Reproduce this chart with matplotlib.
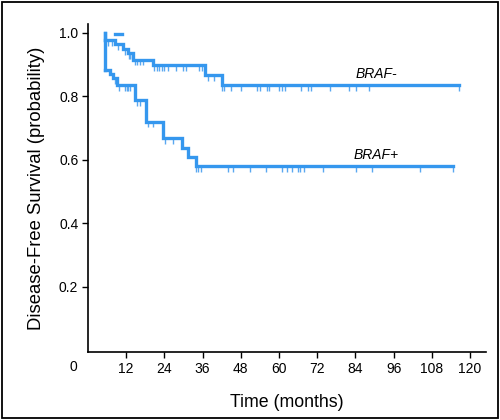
import matplotlib
matplotlib.use("Agg")
import matplotlib.pyplot as plt
from matplotlib.patches import Rectangle
import numpy as np

plt.rcParams['font.family'] = ['Liberation Sans Narrow', 'Liberation Sans', 'DejaVu Sans']

# BRAF- (upper curve): step times and survival after each step
neg_t = [0.0, 5.3, 8.5, 11.1, 12.7, 14.2, 20.5, 36.8, 42.0, 116.6]
neg_s = [1.0, 0.976, 0.964, 0.947, 0.934, 0.915, 0.898, 0.866, 0.835, 0.835]
neg_cens = [6.4, 7.4, 9.5, 11.6, 12.9, 13.3, 13.8, 14.8, 15.5, 16.3, 17.2,
            20.7, 21.6, 22.3, 23.2, 23.9, 25.2, 27.6, 29.7, 30.8, 35.0, 35.7,
            37.8, 39.7, 42.2, 42.8, 44.9, 48.0, 53.0, 54.0, 56.1, 56.7, 60.1,
            60.9, 61.9, 66.8, 69.2, 70.0, 76.0, 82.1, 84.2, 88.1, 116.4]
neg_dash_t = [8.5, 10.7]
neg_dash_s = [0.995, 0.995]

# BRAF+ (lower curve)
pos_t = [0.0, 5.3, 6.9, 8.0, 9.0, 14.8, 18.1, 23.7, 29.4, 31.5, 33.9, 114.6]
pos_s = [1.0, 0.882, 0.869, 0.856, 0.835, 0.787, 0.719, 0.667, 0.637, 0.609, 0.580, 0.580]
pos_cens = [8.6, 9.6, 11.6, 12.1, 12.6, 13.2, 15.3, 16.3, 18.7, 20.5, 24.2, 26.8,
            33.9, 34.7, 35.5, 43.9, 45.6, 50.9, 55.9, 60.9, 62.5, 64.0, 65.8,
            66.6, 67.9, 73.9, 84.2, 89.1, 104.3, 114.6]

x_ticks = [12, 24, 36, 48, 60, 72, 84, 96, 108, 120]
y_ticks = [0.2, 0.4, 0.6, 0.8, 1.0]
group_labels = ['BRAF-', 'BRAF+']

color = '#3597ee'
tick_color = '#5aa8f0'

fig = plt.figure(figsize=(5.0, 4.2), dpi=100)
ax = fig.add_axes([0.176, 0.162, 0.796, 0.781])


def surv_at(t, ts, ss):
    idx = np.searchsorted(ts, t, side='right') - 1
    return ss[max(idx, 0)]


for ts, ss, cens in [(neg_t, neg_s, neg_cens), (pos_t, pos_s, pos_cens)]:
    start = 1
    ax.step(ts[start:], ss[start:], where='post', color=color, lw=2.4,
            solid_joinstyle='miter', zorder=3)
    ax.plot([ts[1], ts[1]], [1.0, ss[1]], color=color, lw=2.4, zorder=3)
    cy = [surv_at(c, ts, ss) for c in cens]
    ax.vlines(cens, np.array(cy) - 0.018, cy, color=tick_color, lw=1.0, zorder=2)

ax.plot(neg_dash_t, neg_dash_s, color=color, lw=2.4, zorder=3)

ax.text(90.5, 0.869, group_labels[0], style='italic', fontsize=10,
        ha='center', va='center')
ax.text(90.5, 0.614, group_labels[1], style='italic', fontsize=10,
        ha='center', va='center')

ax.set_xlim(0, 125)
ax.set_ylim(-0.006, 1.027)
ax.set_xticks(x_ticks)
ax.set_xticklabels([str(v) for v in x_ticks], fontsize=10)
ax.set_yticks(y_ticks)
ax.set_yticklabels([f'{v:.1f}' for v in y_ticks], fontsize=10)
ax.tick_params(axis='both', direction='out', length=4, width=1, pad=3)
for side in ['top', 'right']:
    ax.spines[side].set_visible(False)
for side in ['left', 'bottom']:
    ax.spines[side].set_linewidth(1.2)

ax.set_xlabel('Time (months)', fontsize=12.8, labelpad=13)
ax.set_ylabel('Disease-Free Survival (probability)', fontsize=13.3, labelpad=10)

fig.text(73 / 500, 1 - 367 / 420, '0', fontsize=10, ha='center', va='center')

fig.patches.append(Rectangle((0.003, 0.004), 0.993, 0.992, transform=fig.transFigure,
                             fill=False, edgecolor='black', lw=1.3))

fig.savefig('out.png', dpi=100)
